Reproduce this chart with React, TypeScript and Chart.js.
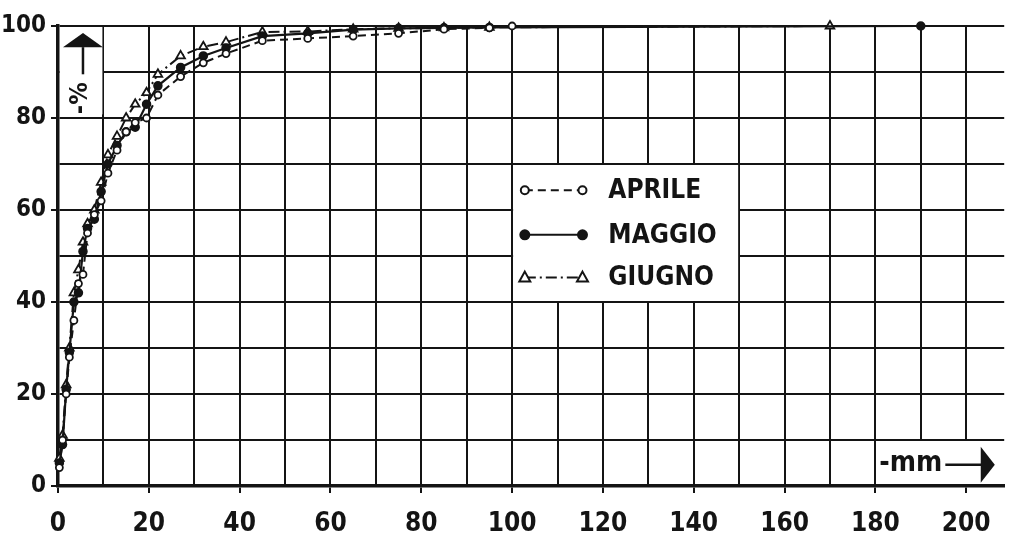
import { useEffect, useRef } from 'react';
import { Chart, registerables } from 'chart.js';

Chart.register(...registerables);

// Grain size (mm) at which each cumulative percentage was measured
const MM = [0.3, 1, 1.8, 2.5, 3.5, 4.5, 5.5, 6.5, 8, 9.5, 11, 13, 15, 17, 19.5, 22, 27, 32, 37, 45, 55, 65, 75, 85, 95];

// Cumulative percentage passing, one list per month
const APRILE = [4, 10, 20, 28, 36, 44, 46, 55, 59, 62, 68, 73, 77, 79, 80, 85, 89, 92, 94, 96.8, 97.3, 97.8, 98.4, 99.3, 99.6];
const MAGGIO = [5, 9, 21, 29, 40, 42, 51, 56, 58, 64, 70, 74, 77, 78, 83, 87, 91, 93.5, 95.2, 97.8, 98.4, 99.2, 99.5, 99.6, 99.7];
const GIUGNO = [6, 11, 22, 30, 42, 47, 53, 57, 60, 66, 72, 76, 80, 83, 85.5, 89.5, 93.5, 95.5, 96.5, 98.7, 98.8, 99.3, 99.5, 99.6, 99.7];

// Last point of each curve, where it reaches 100 %
const APRILE_END = [100, 100];
const MAGGIO_END = [190, 100];
const GIUGNO_END = [170, 100];

const X_LABELS = [0, 20, 40, 60, 80, 100, 120, 140, 160, 180, 200];
const Y_LABELS = [0, 20, 40, 60, 80, 100];

const INK = '#141414';
const FONT = '"DejaVu Sans Condensed", "Liberation Sans Narrow", "DejaVu Sans", sans-serif';

const toPoints = (ys: number[], end: number[]) =>
  [...MM.map((x, i) => ({ x, y: ys[i] })), { x: end[0], y: end[1] }];

const DASH_APRILE = [8, 5];
const DASH_GIUGNO = [11, 4, 2, 4];

const overlay = {
  id: 'overlay',
  beforeDatasetsDraw(chart: any) {
    const { ctx, chartArea: a, scales } = chart;
    const x = scales.x;
    const y = scales.y;
    ctx.save();

    // white patches hiding the grid under the axis captions and legend
    ctx.fillStyle = '#fff';
    ctx.fillRect(a.left + 2, a.top + 1, x.getPixelForValue(10) - a.left - 3, y.getPixelForValue(81) - a.top);
    const mmL = x.getPixelForValue(180) + 1;
    const mmT = y.getPixelForValue(10) + 1;
    ctx.fillRect(mmL, mmT, a.right - mmL, a.bottom - mmT - 2);
    const lgL = x.getPixelForValue(100);
    const lgR = x.getPixelForValue(150);
    const lgT = y.getPixelForValue(70);
    const lgB = y.getPixelForValue(40);
    ctx.fillRect(lgL + 1, lgT + 1, lgR - lgL - 2, lgB - lgT - 2);

    ctx.fillStyle = INK;
    ctx.strokeStyle = INK;

    // vertical caption: arrow pointing up with "-%"
    const ax = x.getPixelForValue(5.5);
    const headTop = y.getPixelForValue(98.5);
    const headBase = y.getPixelForValue(95.4);
    ctx.beginPath();
    ctx.moveTo(ax, headTop);
    ctx.lineTo(ax + 20, headBase);
    ctx.lineTo(ax - 20, headBase);
    ctx.closePath();
    ctx.fill();
    ctx.lineWidth = 2.5;
    ctx.beginPath();
    ctx.moveTo(ax, headBase);
    ctx.lineTo(ax, y.getPixelForValue(89.5));
    ctx.stroke();
    ctx.save();
    ctx.translate(ax - 2, y.getPixelForValue(84.3));
    ctx.rotate(-Math.PI / 2);
    ctx.font = `bold 25px ${FONT}`;
    ctx.textAlign = 'center';
    ctx.textBaseline = 'middle';
    ctx.fillText('-%', 0, 0);
    ctx.restore();

    // horizontal caption: "-mm" with arrow pointing right
    const my = y.getPixelForValue(4.6);
    ctx.font = `bold 28px ${FONT}`;
    ctx.textAlign = 'left';
    ctx.textBaseline = 'middle';
    ctx.fillText('-mm', mmL + 3, my - 1);
    const textEnd = mmL + 3 + ctx.measureText('-mm').width;
    ctx.lineWidth = 2.5;
    ctx.beginPath();
    ctx.moveTo(textEnd + 3, my);
    ctx.lineTo(x.getPixelForValue(203.5), my);
    ctx.stroke();
    ctx.beginPath();
    ctx.moveTo(x.getPixelForValue(203.2), my - 18);
    ctx.lineTo(x.getPixelForValue(206.3), my);
    ctx.lineTo(x.getPixelForValue(203.2), my + 18);
    ctx.closePath();
    ctx.fill();

    // legend
    const s0 = x.getPixelForValue(102.8);
    const s1 = x.getPixelForValue(115.5);
    const tx = x.getPixelForValue(121.2);
    const rows = [64.3, 54.6, 45.3].map((v) => y.getPixelForValue(v));
    chart.data.datasets.forEach((ds: any, i: number) => {
      const ry = rows[i];
      ctx.lineWidth = 2;
      ctx.setLineDash(ds.borderDash || []);
      ctx.beginPath();
      ctx.moveTo(s0, ry);
      ctx.lineTo(s1, ry);
      ctx.stroke();
      ctx.setLineDash([]);
      [s0, s1].forEach((px) => {
        ctx.lineWidth = 2;
        ctx.fillStyle = ds.pointBackgroundColor;
        ctx.beginPath();
        if (ds.pointStyle === 'triangle') {
          ctx.moveTo(px, ry - 6);
          ctx.lineTo(px + 5.5, ry + 4);
          ctx.lineTo(px - 5.5, ry + 4);
          ctx.closePath();
        } else {
          ctx.arc(px, ry, ds.pointRadius + 0.5, 0, Math.PI * 2);
        }
        ctx.fill();
        ctx.stroke();
      });
      ctx.fillStyle = INK;
      ctx.font = `bold 26px ${FONT}`;
      ctx.textAlign = 'left';
      ctx.textBaseline = 'middle';
      ctx.fillText(ds.label, tx, ry + 1);
    });

    ctx.restore();
  },
};

export default function App() {
  const ref = useRef<HTMLCanvasElement>(null);

  useEffect(() => {
    if (!ref.current) return;
    const chart = new Chart(ref.current, {
      type: 'line',
      data: {
        datasets: [
          {
            label: 'APRILE',
            data: toPoints(APRILE, APRILE_END),
            borderColor: INK,
            borderWidth: 2,
            borderDash: DASH_APRILE,
            pointStyle: 'circle',
            pointRadius: 3.5,
            pointBorderWidth: 1.8,
            pointBackgroundColor: '#fff',
            pointBorderColor: INK,
            tension: 0,
            clip: false,
          },
          {
            label: 'MAGGIO',
            data: toPoints(MAGGIO, MAGGIO_END),
            borderColor: INK,
            borderWidth: 2.2,
            pointStyle: 'circle',
            pointRadius: 4,
            pointBorderWidth: 1.5,
            pointBackgroundColor: INK,
            pointBorderColor: INK,
            tension: 0,
            clip: false,
          },
          {
            label: 'GIUGNO',
            data: toPoints(GIUGNO, GIUGNO_END),
            borderColor: INK,
            borderWidth: 2,
            borderDash: DASH_GIUGNO,
            pointStyle: 'triangle',
            pointRadius: 5,
            pointBorderWidth: 1.8,
            pointBackgroundColor: '#fff',
            pointBorderColor: INK,
            tension: 0,
            clip: false,
          },
        ] as any,
      },
      options: {
        responsive: false,
        animation: false,
        events: [],
        layout: { padding: { top: 26, right: 0, left: 0, bottom: 0 } },
        plugins: { legend: { display: false }, tooltip: { enabled: false } },
        scales: {
          x: {
            type: 'linear',
            min: 0,
            max: 208.37,
            afterFit: (s: any) => {
              s.height = 52;
            },
            border: { color: INK, width: 3.5 },
            grid: {
              color: INK,
              lineWidth: 2,
              tickLength: 7,
              tickWidth: 2,
              tickColor: (c: any) => (c.tick && X_LABELS.includes(c.tick.value) ? INK : 'rgba(0,0,0,0)'),
            },
            ticks: {
              stepSize: 10,
              includeBounds: false,
              autoSkip: false,
              maxRotation: 0,
              padding: 16,
              color: INK,
              font: { family: FONT, size: 26, weight: 'bold' },
              callback: (v: any) => (X_LABELS.includes(Number(v)) ? String(v) : ''),
            },
          },
          y: {
            type: 'linear',
            min: 0,
            max: 100,
            afterFit: (s: any) => {
              s.width = 58;
            },
            border: { color: INK, width: 3.5 },
            grid: {
              color: INK,
              lineWidth: 2,
              tickLength: 7,
              tickWidth: 2,
              tickColor: (c: any) => (c.tick && Y_LABELS.includes(c.tick.value) ? INK : 'rgba(0,0,0,0)'),
            },
            ticks: {
              stepSize: 10,
              autoSkip: false,
              padding: 5,
              color: INK,
              font: { family: FONT, size: 24, weight: 'bold' },
              callback: (v: any) => (Y_LABELS.includes(Number(v)) ? String(v) : ''),
            },
          },
        },
      },
      plugins: [overlay],
    });
    return () => chart.destroy();
  }, []);

  return (
    <div style={{ position: 'absolute', left: 0, top: 0, width: 1011, height: 538, background: '#fff' }}>
      <canvas ref={ref} width={1011} height={538} />
    </div>
  );
}
